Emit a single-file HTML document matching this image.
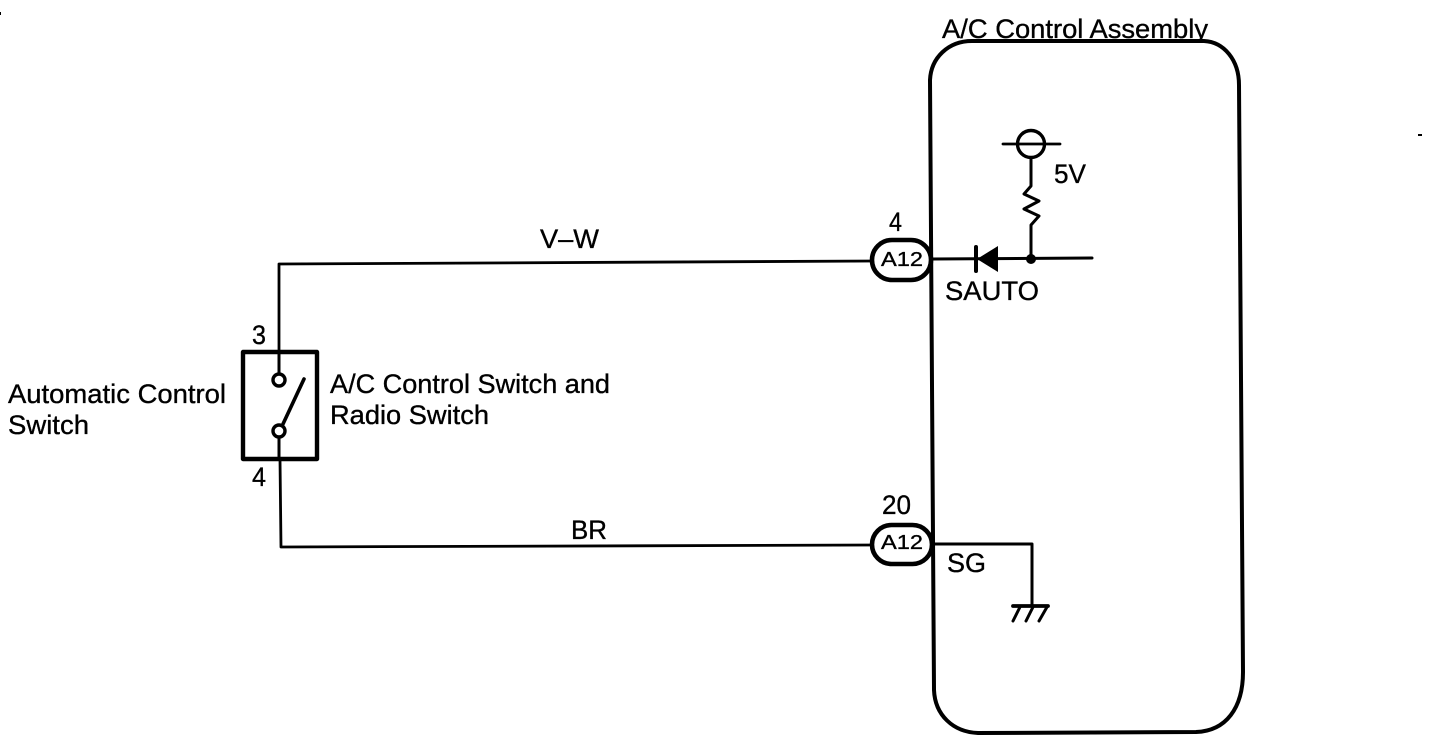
<!DOCTYPE html>
<html><head><meta charset="utf-8"><style>
html,body{margin:0;padding:0;background:#fff;width:1456px;height:748px;overflow:hidden}
svg{display:block}
text{font-family:"Liberation Sans",sans-serif;fill:#000;stroke:#000;stroke-width:.35}
</style></head><body>
<svg width="1456" height="748" viewBox="0 0 1456 748" xmlns="http://www.w3.org/2000/svg">
<rect width="1456" height="748" fill="#fff"/>
<text x="942" y="38" font-size="27" textLength="266" lengthAdjust="spacingAndGlyphs">A/C Control Assembly</text>
<rect x="935" y="39" width="290" height="12" fill="#fff"/>
<g fill="none" stroke="#000" stroke-linecap="round" stroke-linejoin="round">
<path d="M930 80C931 58 948 41 972 41L1204 41C1224 42 1239 60 1239 85L1243 672C1243 708 1226 731 1196 732L978 733C953 732 935 715 934 690Z" stroke-width="4"/>
<path d="M279 352L279 264L875 261" stroke-width="2.8"/>
<path d="M280 459L281 547L873 545" stroke-width="2.8"/>
<rect x="243" y="352" width="74" height="107" stroke-width="4.4"/>
<path d="M279 352V374M279 438V459" stroke-width="3"/>
<circle cx="279" cy="380" r="6" stroke-width="3.4"/>
<circle cx="279" cy="431" r="6" stroke-width="3.4"/>
<path d="M283 424L304 379" stroke-width="3.6"/>
<rect x="872" y="240" width="59" height="40" rx="20" stroke-width="4.6" fill="#fff"/>
<rect x="872" y="525" width="60" height="39" rx="19.5" stroke-width="4.6" fill="#fff"/>
<path d="M932 259L1092 258" stroke-width="3"/>
<path d="M932 544H1032V606" stroke-width="3"/>
<circle cx="1031" cy="144" r="13.5" stroke-width="3.4"/>
<path d="M1003 144H1060" stroke-width="2.8"/>
<path d="M1031 158V186L1024 194L1039 201L1024 209L1039 216L1031 225V258" stroke-width="3"/>
<path d="M976 247V271" stroke-width="4"/>
<path d="M1013 606H1048" stroke-width="3.8"/>
<path d="M1020 607L1013 621M1033 607L1026 621M1047 607L1039 621" stroke-width="3"/>
</g>
<path d="M998 246V272L977 259Z" fill="#000"/>
<circle cx="1031" cy="259" r="5" fill="#000"/>
<rect x="0" y="12" width="1" height="3" fill="#000"/>
<rect x="1418" y="134" width="4" height="2" fill="#000"/>
<text x="540" y="248" font-size="27" textLength="59" lengthAdjust="spacingAndGlyphs">V–W</text>
<text x="889" y="231" font-size="27" textLength="13" lengthAdjust="spacingAndGlyphs">4</text>
<text x="881" y="266" font-size="20" textLength="42" lengthAdjust="spacingAndGlyphs">A12</text>
<text x="945" y="300" font-size="27" textLength="94" lengthAdjust="spacingAndGlyphs">SAUTO</text>
<text x="1054" y="183" font-size="27" textLength="32" lengthAdjust="spacingAndGlyphs">5V</text>
<text x="252" y="344" font-size="27" textLength="14" lengthAdjust="spacingAndGlyphs">3</text>
<text x="252" y="486" font-size="27" textLength="14" lengthAdjust="spacingAndGlyphs">4</text>
<text x="8" y="403" font-size="27" textLength="218" lengthAdjust="spacingAndGlyphs">Automatic Control</text>
<text x="8" y="434" font-size="27" textLength="81" lengthAdjust="spacingAndGlyphs">Switch</text>
<text x="330" y="393" font-size="27" textLength="280" lengthAdjust="spacingAndGlyphs">A/C Control Switch and</text>
<text x="330" y="424" font-size="27" textLength="159" lengthAdjust="spacingAndGlyphs">Radio Switch</text>
<text x="571" y="539" font-size="27" textLength="36" lengthAdjust="spacingAndGlyphs">BR</text>
<text x="882" y="514" font-size="27" textLength="29" lengthAdjust="spacingAndGlyphs">20</text>
<text x="881" y="549" font-size="20" textLength="42" lengthAdjust="spacingAndGlyphs">A12</text>
<text x="947" y="572" font-size="27" textLength="39" lengthAdjust="spacingAndGlyphs">SG</text>
</svg>
</body></html>
